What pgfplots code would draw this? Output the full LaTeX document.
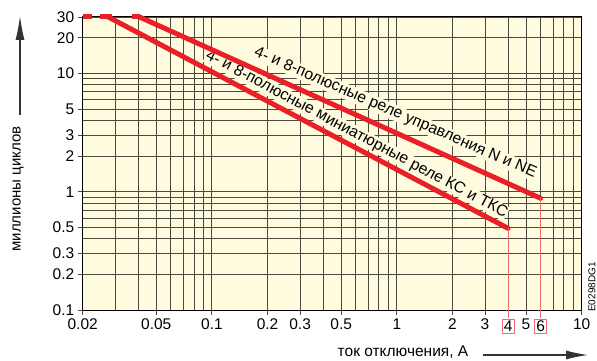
\documentclass[border=0pt]{standalone}
\usepackage{pgfplots}
\pgfplotsset{compat=1.18}
\usepackage{fontspec}
\setmainfont{Liberation Sans}
\usetikzlibrary{arrows.meta}
\definecolor{bgy}{RGB}{255,251,222}
\definecolor{lred}{RGB}{234,32,40}
\definecolor{thinred}{RGB}{240,110,110}
\definecolor{gridc}{RGB}{75,72,62}
\newcommand{\rbox}[1]{{\setlength{\fboxsep}{1.5pt}\setlength{\fboxrule}{0.7pt}\fcolorbox{thinred}{white}{#1}}}
\begin{document}
\begin{tikzpicture}[x=1pt,y=1pt]
\useasboundingbox (0,0) rectangle (597,361);
\begin{axis}[
  at={(82.7pt,51pt)}, anchor=south west,
  scale only axis, width=499pt, height=293pt,
  xmode=log, ymode=log,
  xmin=0.02, xmax=10, ymin=0.1, ymax=30,
  axis background/.style={fill=bgy},
  xtick={0.02,0.05,0.1,0.2,0.3,0.5,1,2,3,4,5,6,10},
  xticklabels={0.02,0.05,0.1,0.2,0.3,0.5,1,2,3,\rbox{4},5,\rbox{6},10},
  ytick={0.1,0.2,0.3,0.5,1,2,3,5,10,20,30},
  yticklabels={0.1,0.2,0.3,0.5,1,2,3,5,10,20,30},
  minor xtick={0.03,0.04,0.06,0.07,0.08,0.09,0.4,0.6,0.7,0.8,0.9,4,7,8,9},
  minor ytick={0.4,0.6,0.7,0.8,0.9,4,6,7,8,9},
  grid=both,
  major grid style={gridc, line width=0.9pt},
  minor grid style={gridc, line width=0.9pt},
  tick pos=left,
  tick align=outside, major tick length=5pt, minor tick length=0pt,
  tick style={gridc, line width=0.9pt},
  axis line style={black, line width=1pt},
  ticklabel style={font=\fontsize{15.5}{15.5}\selectfont},
  clip=false,
]
% labels along lines (drawn first, lines on top)
\node[rotate=-23.5, fill=bgy, inner sep=0.5pt,
      font=\fontsize{15.8}{15.8}\selectfont]
  at (axis cs:0.981,4.63) {4- и 8-полюсные реле управления N и NE};
\node[rotate=-28, fill=bgy, inner sep=0.5pt,
      font=\fontsize{15.8}{15.8}\selectfont]
  at (axis cs:0.6046,3.045) {4- и 8-полюсные миниатюрные реле КС и ТКС};
% dashed start at 30
\addplot[lred, line width=5pt, line cap=butt] coordinates {(0.02,30) (0.0224,30)};
\addplot[lred, line width=5pt, line cap=butt] coordinates {(0.0247,30) (0.0287,30)};
\addplot[lred, line width=5pt, line cap=butt] coordinates {(0.0368,30) (0.0406,30)};
% upper line: N and NE
\addplot[lred, line width=5pt, line cap=round] coordinates {(0.0406,30) (6,0.88)};
% lower line: KC and TKC
\addplot[lred, line width=5pt, line cap=round] coordinates {(0.0275,30) (4,0.49)};
% thin drop lines
\addplot[thinred, line width=1pt] coordinates {(6,0.88) (6,0.086)};
\addplot[thinred, line width=1pt] coordinates {(4,0.49) (4,0.086)};
\end{axis}
% axis titles with arrows
\node[rotate=90, font=\fontsize{15}{15}\selectfont] at (18,172) {миллионы циклов};
\draw[line width=1.2pt, black!80, -{Latex[length=24pt,width=9pt]}] (20,246) -- (20,345);
\node[font=\fontsize{15.5}{15.5}\selectfont] at (403,9) {ток отключения, А};
\draw[line width=1.2pt, black!80, -{Latex[length=22pt,width=9pt]}] (483,6) -- (588,6);
\node[rotate=90, font=\fontsize{10}{10}\selectfont] at (592,74) {E0298DG1};
\end{tikzpicture}
\end{document}
